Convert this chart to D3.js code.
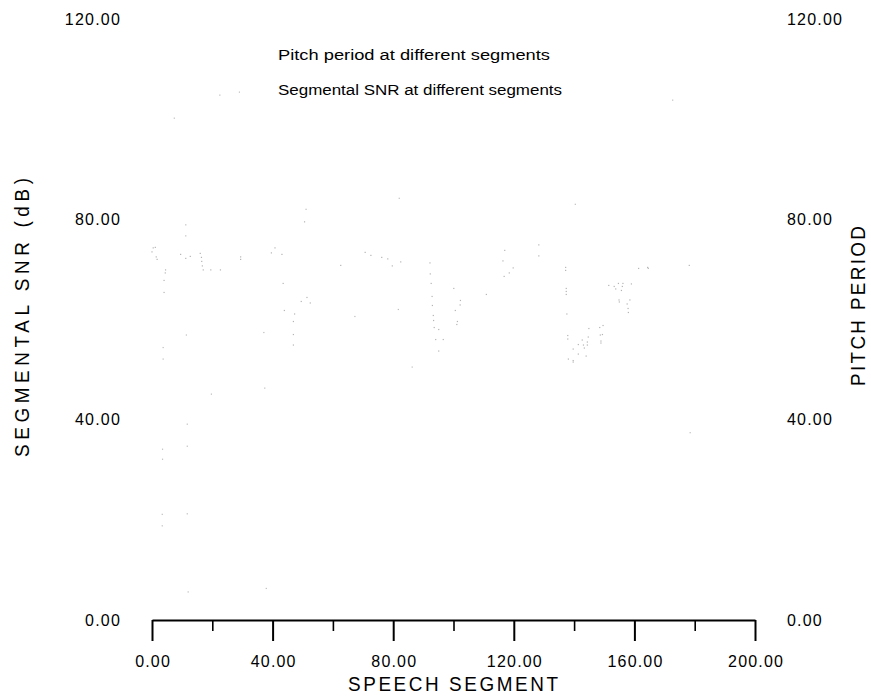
<!DOCTYPE html>
<html>
<head>
<meta charset="utf-8">
<script src="https://cdn.jsdelivr.net/npm/d3@7"></script>
<style>
  html, body { margin: 0; padding: 0; background: #fff; }
  svg { display: block; }
  text { font-family: "Liberation Sans", Arial, sans-serif; fill: #000; }
</style>
</head>
<body>
<svg id="chart" width="871" height="696"></svg>
<script>
// ---------- data ----------
const xTicks = [0, 40, 80, 120, 160, 200];
const xMinorTicks = [20, 60, 100, 140, 180];
const yTicks = [0, 40, 80, 120];
const legendLabels = ["Pitch period at different segments", "Segmental SNR at different segments"];

// Pitch period series [segment, value]
const pitchSeries = [
  [0.4,74.3],[1.1,74.4],[0,73.5],[1.4,72.5],[1.7,72.0],[9.5,73.0],[12.7,72.6],[11.2,72.2],
  [16.0,73.2],[16.4,72.4],[16.5,71.6],[16.7,70.7],[17.0,69.9],[19.5,69.9],[22.7,69.9],
  [4.5,69.9],[4.4,69.3],[4.0,67.8],[4.0,65.4],[29.4,72.5],[29.4,72.0],[40.8,74.3],
  [39.6,73.3],[43.1,73.0],[62.6,70.8],[43.5,67.2],[50.6,79.5],[51.4,64.4],[49.5,63.6],
  [52.5,63.3],[43.9,61.8],[47.3,61.1],[46.9,59.6],[46.9,57.0],[46.9,54.9],
  [70.7,73.4],[72.6,72.8],[76.2,72.4],[78.2,72.1],[82.5,71.5],[79.7,70.7],[92.2,71.3],
  [92.3,69.1],[92.6,67.2],[92.9,64.6],[93.0,62.8],[93.3,60.8],[93.4,59.8],[93.6,58.4],
  [95.1,58.0],[94.1,56.0],[96.6,56.0],[95.1,53.7],[100.1,66.2],[102.3,63.8],[102.2,62.9],
  [100.6,61.8],[101.3,59.6],[101.1,59.0],[110.9,65.0],[117.0,73.8],[116.4,71.7],
  [119.8,70.3],[118.5,69.3],[116.8,68.6],[128.3,74.9],[128.3,72.7],
  [137.2,70.4],[137.2,69.8],[161.4,70.2],[164.4,70.4],[164.6,70.2],[178.2,70.8],
  [137.4,66.2],[137.4,65.6],[137.4,65.0],[137.6,61.1],[151.5,66.8],[154.7,67.2],
  [156.2,67.2],[159.0,67.1],[153.3,66.6],[156.0,66.6],[153.8,66.1],[155.7,65.8],
  [154.9,63.9],[155.0,63.5],[158.5,63.9],[157.6,63.1],[157.9,62.2],[158.0,61.4],
  [149.6,58.8],[148.5,58.4],[144.9,58.2],[137.9,56.8],[137.9,56.1],[144.7,56.5],
  [148.7,56.9],[149.4,57.0],[148.9,55.7],[148.9,55.3],[142.7,55.9],[141.4,55.0],
  [143.1,54.9],[144.4,55.5],[144.4,54.9],[143.4,54.3],[139.7,54.1],[141.4,53.1],
  [144.0,52.7],[138.1,52.1],[139.7,51.8],[139.7,51.5]
];

// Segmental SNR series [segment, dB]
const snrSeries = [
  [51.1,82.0],[11.2,78.9],[11.2,76.7],[3.7,54.4],[3.7,52.1],[11.4,56.9],[37.1,57.4],
  [11.7,39.1],[11.7,34.7],[3.5,34.1],[3.5,32.1],[11.7,21.2],[3.4,21.1],[3.4,18.8],
  [12.0,5.6],[37.9,6.3],[37.4,46.3],[19.7,45.1],[22.5,104.8],[29.0,105.4],[7.4,100.2],
  [172.7,103.8],[178.5,37.4],[82.0,84.2],[140.4,83.0],[86.3,50.5],[67.3,60.6],[81.7,62.0]
];

// ---------- drawing ----------
const svg = d3.select("#chart");
const x = d3.scaleLinear().domain([0, 200]).range([152, 755]);
const y = d3.scaleLinear().domain([0, 120]).range([620, 19]);

// points
svg.append("g").selectAll("rect").data(pitchSeries).join("rect")
  .attr("x", d => x(d[0]) - 0.6).attr("y", d => y(d[1]) - 0.6)
  .attr("width", 1.2).attr("height", 1.2).attr("fill", "#b4b4b4");
svg.append("g").selectAll("rect").data(snrSeries).join("rect")
  .attr("x", d => x(d[0]) - 0.6).attr("y", d => y(d[1]) - 0.6)
  .attr("width", 1.2).attr("height", 1.2).attr("fill", "#bcbcbc");

// x axis
const axisY = 620;
const xAxis = d3.axisBottom(x).tickValues(xTicks).tickSize(21).tickSizeOuter(0)
  .tickFormat(d3.format(".2f"));
const gx = svg.append("g").attr("transform", `translate(0,${axisY})`).call(xAxis);
gx.select(".domain").attr("stroke", "#000").attr("stroke-width", 2.2);
gx.selectAll(".tick line").attr("stroke", "#000").attr("stroke-width", 2);
gx.selectAll(".tick text").attr("y", 41).attr("dy", "0.35em")
  .style("font-size", "16px").style("letter-spacing", "1.2px")
  .attr("dx", "0.6px");
const gxm = svg.append("g").attr("transform", `translate(0,${axisY})`)
  .call(d3.axisBottom(x).tickValues(xMinorTicks).tickSize(11).tickFormat(""));
gxm.select(".domain").remove();
gxm.selectAll(".tick line").attr("stroke", "#000").attr("stroke-width", 1.6);

// y labels (no axis line)
svg.append("g").selectAll("text").data(yTicks).join("text")
  .attr("x", 121).attr("y", d => y(d)).attr("dy", "0.35em")
  .attr("text-anchor", "end").style("font-size", "16px").style("letter-spacing", "1.2px")
  .text(d => d3.format(".2f")(d));
svg.append("g").selectAll("text").data(yTicks).join("text")
  .attr("x", 787).attr("y", d => y(d)).attr("dy", "0.35em")
  .attr("text-anchor", "start").style("font-size", "16px").style("letter-spacing", "1.2px")
  .text(d => d3.format(".2f")(d));

// legend texts
svg.append("text").attr("x", 278).attr("y", 55).attr("dy", "0.35em")
  .attr("textLength", 272).attr("lengthAdjust", "spacingAndGlyphs")
  .style("font-size", "14px").text(legendLabels[0]);
svg.append("text").attr("x", 278).attr("y", 90).attr("dy", "0.35em")
  .attr("textLength", 284).attr("lengthAdjust", "spacingAndGlyphs")
  .style("font-size", "14px").text(legendLabels[1]);

// axis titles (slightly condensed glyphs, spaced letters)
const sx = 0.9;
svg.append("text").attr("transform", `translate(348,684) scale(${sx},1)`).attr("dy", "0.35em")
  .attr("textLength", 210 / sx).attr("lengthAdjust", "spacing")
  .style("font-size", "21px").text("SPEECH SEGMENT");
svg.append("text").attr("transform", `translate(22,457) rotate(-90) scale(${sx},1)`)
  .attr("dy", "0.35em").attr("textLength", 279 / sx).attr("lengthAdjust", "spacing")
  .style("font-size", "21px").text("SEGMENTAL SNR (dB)");
svg.append("text").attr("transform", `translate(858,386) rotate(-90) scale(${sx},1)`)
  .attr("dy", "0.35em").attr("textLength", 160 / sx).attr("lengthAdjust", "spacing")
  .style("font-size", "21px").text("PITCH PERIOD");
</script>
</body>
</html>
